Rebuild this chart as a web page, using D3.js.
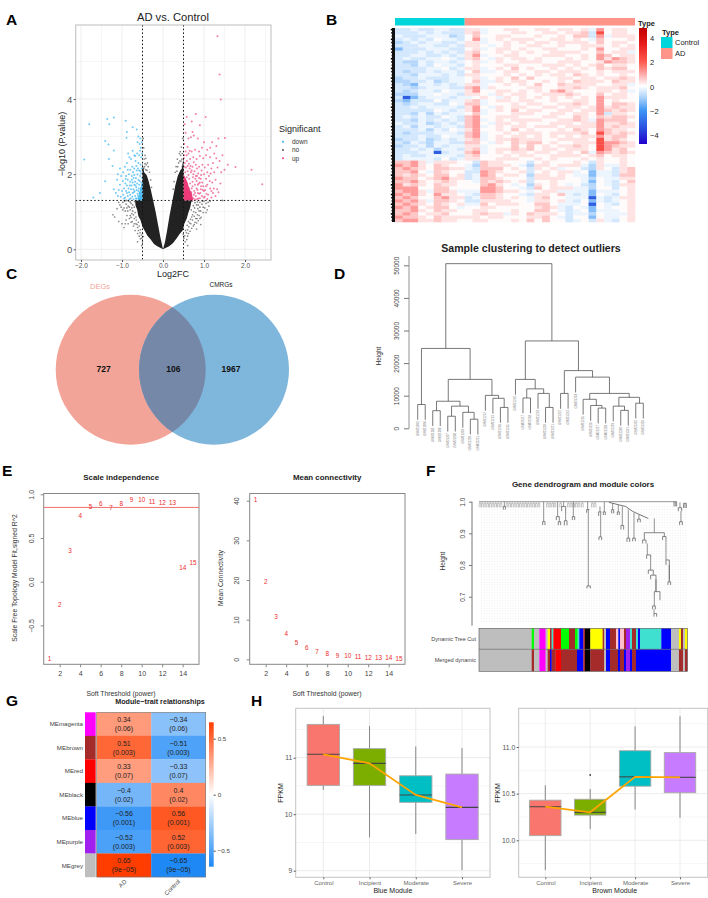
<!DOCTYPE html>
<html><head><meta charset="utf-8">
<script src="https://cdnjs.cloudflare.com/ajax/libs/d3/7.8.5/d3.min.js"></script>
<style>html,body{margin:0;padding:0;background:#fff}svg{display:block}text{font-family:"Liberation Sans",Arial,sans-serif}</style>
</head><body><svg id="c" width="708" height="898"></svg>
<script>
// ---------- A: volcano ----------
const volcanoBlue=[[-1.8,3.33],[-1.92,2.39],[-1.36,3.47],[-1.2,3.51],[-1.31,3.33],[-.91,3.42],[-.74,3.25],[-.64,3.19],[-.88,3.12],[-.89,2.97],[-1.41,2.88],[-1.33,2.79],[-1.2,2.63],[-1.32,2.4],[-1.54,1.5],[-1.7,1.38],[-1.23,2.22],[-1.41,1.81],[-.6,3.0],[-.55,2.95],[-.62,2.85],[-.57,2.8],[-.52,2.85],[-.54,2.7],[-.85,2.55],[-.82,2.45],[-.7,2.5],[-.63,2.55],[-.58,2.5],[-.53,2.45],[-.88,2.3],[-.78,2.4],[-.67,2.35],[-.6,2.3],[-.55,2.25],[-.93,2.2],[-.86,2.12],[-.75,2.2],[-.7,2.15],[-.64,2.1],[-.58,2.1],[-1.05,2.15],[-1.1,2.0],[-1.02,1.95],[-.97,2.05],[-.9,1.95],[-.83,2.0],[-.76,1.95],[-.7,1.98],[-1.12,1.85],[-1.05,1.72],[-.98,1.82],[-.92,1.75],[-.86,1.85],[-.8,1.8],[-.74,1.78],[-.68,1.8],[-.6,1.85],[-1.2,1.6],[-1.15,1.5],[-1.08,1.58],[-1.0,1.55],[-.95,1.62],[-.9,1.55],[-.84,1.62],[-.78,1.6],[-.72,1.6],[-.65,1.65],[-1.1,1.42],[-1.03,1.4],[-.97,1.45],[-.92,1.38],[-.86,1.42],[-.8,1.45],[-.75,1.4],[-.68,1.42],[-.62,1.48],[-.82,1.33],[-.72,1.33],[-.88,1.7],[-.77,1.7],[-.71,1.52],[-.66,1.9],[-.62,2.0],[-.58,1.72],[-.56,1.95],[-.54,1.6],[-.53,2.02],[-.66,1.35],[-.6,1.55],[-.8,2.12],[-.73,2.05],[-.95,1.35],[-.52,2.15],[-.55,2.08],[-.51,1.9],[-.53,1.78],[-.57,1.82],[-.59,1.62],[-.63,1.75],[-.61,1.42],[-.57,1.5],[-.53,1.4],[-.55,1.33],[-.64,1.58],[-.67,1.7],[-.7,1.72],[-.69,1.55],[-.74,1.5],[-.76,1.85],[-.81,1.7],[-.83,1.52],[-.79,1.35],[-.88,1.5],[-.91,1.88],[-.72,1.9],[-.65,2.22],[-.61,2.15],[-.51,2.55],[-.56,2.62],[-.68,2.48],[-.74,2.62],[-.5,1.5],[-.5,1.72],[-.51,1.32],[-.64,1.35],[-.59,1.36]];
const volcanoPink=[[1.33,5.67],[1.38,4.65],[1.41,3.99],[.8,3.6],[1.04,3.52],[.58,3.52],[2.42,1.73],[2.16,2.12],[1.77,2.19],[1.58,2.25],[1.51,2.96],[1.35,2.95],[.7,3.4],[.9,3.3],[.53,3.33],[.55,3.1],[.72,3.12],[.75,3.03],[.62,2.95],[.68,2.98],[.85,2.95],[.52,2.8],[.6,2.72],[1.0,2.85],[1.2,2.85],[1.3,2.75],[1.25,2.55],[1.15,2.7],[1.08,2.65],[.95,2.7],[.88,2.6],[.78,2.65],[.7,2.6],[.62,2.55],[.55,2.6],[.52,2.5],[1.45,2.5],[1.38,2.35],[1.3,2.42],[1.22,2.3],[1.15,2.45],[1.05,2.5],[.98,2.42],[.9,2.48],[.82,2.4],[.74,2.45],[.66,2.4],[.58,2.35],[1.5,2.12],[1.42,2.05],[1.33,2.18],[1.25,2.05],[1.18,2.15],[1.1,2.25],[1.02,2.18],[.96,2.25],[.88,2.2],[.8,2.25],[.72,2.2],[.65,2.15],[.6,2.22],[1.4,1.75],[1.32,1.6],[1.28,1.85],[1.2,1.78],[1.12,1.95],[1.05,1.88],[1,2.0],[.93,1.98],[.86,2.02],[.8,1.95],[.74,2.0],[.68,2.05],[.62,1.98],[1.35,1.52],[1.22,1.5],[1.15,1.62],[1.1,1.45],[1.05,1.68],[1,1.55],[.96,1.78],[.92,1.6],[.87,1.75],[.82,1.82],[.78,1.72],[.72,1.8],[1.18,1.38],[1.08,1.34],[1.02,1.4],[.95,1.42],[.9,1.36],[.85,1.5],[.8,1.42],[.76,1.55],[.7,1.62],[.66,1.75],[.64,1.88],[.58,1.92],[.54,2.05],[.52,2.2],[.57,1.72],[.62,1.5],[.68,1.42],[.6,1.35],[.74,1.36],[.83,1.33],[.56,1.45],[.52,1.62],[.53,2.3],[.56,2.18],[.51,2.42],[.6,2.08],[.63,2.28],[.67,2.22],[.7,2.1],[.73,1.92],[.77,2.08],[.79,1.88],[.83,1.95],[.85,1.72],[.88,1.9],[.9,1.78],[.93,1.68],[.84,1.58],[.88,1.48],[.91,1.5],[.97,1.58],[.99,1.38],[1.03,1.58],[1.06,1.48],[.78,1.33],[.75,1.45],[.72,1.68],[.69,1.52],[.66,1.33],[.64,1.62],[.82,1.62],[.78,1.5],[.86,1.35],[.92,1.88],[.98,1.68],[1.08,1.72],[1.14,1.82],[1.18,1.55],[1.24,1.62],[1.28,1.42],[.58,2.5],[.65,2.62],[.75,2.32],[.83,2.15],[.94,2.1],[1.08,2.05],[1.16,2.02]];
const volcanoBlack=[[-1.22,.92],[-1.18,.86],[-1.08,.74],[-1.0,.68],[-1.12,1.08],[-1.05,1.18],[-.98,1.25],[-.95,1.1],[-.92,1.02],[-.88,.9],[-.9,1.2],[-.85,1.15],[-.84,1.28],[-.8,1.05],[-.82,.82],[-.78,.72],[-.76,.95],[-.74,1.18],[-.72,.62],[-.7,.82],[-.68,.5],[-.66,.68],[-.62,.42],[-.58,.35],[-.55,.28],[-.5,.2],[-.48,2.95],[-.47,2.7],[-.44,2.5],[-.42,2.42],[-.38,2.3],[-.36,2.2],[-.33,2.05],[-.3,1.85],[-.45,2.2],[-.42,2.12],[-.28,1.65],[.48,2.95],[.42,2.6],[.4,2.55],[.35,2.4],[.47,2.55],[.32,2.2],[.3,2.05],[.27,1.8],[.44,2.35],[.25,1.6],[1.45,1.3],[1.1,1.25],[1.12,1.15],[1.05,1.22],[1.0,1.28],[.98,1.12],[.95,1.2],[.92,1.02],[.9,1.25],[.88,.9],[.85,1.08],[.83,.82],[.82,1.18],[.8,.98],[.78,.72],[.76,.88],[.74,.62],[.72,.78],[.7,.56],[.68,.68],[.66,.48],[.82,.54],[.62,.42],[.6,.35],[.58,.26],[.54,.2],[.6,.1],[-.52,.1],[-.62,.2],[.92,.66],[-.95,.58],
[-.78,1.22],[-.76,1.1],[-.74,1.02],[-.72,.92],[-.7,1.12],[-.69,1.27],[-.68,.98],[-.66,.86],[-.65,.78],[-.63,.66],[-.62,.58],[-.6,.72],[-.6,.5],[-.58,.62],[-.56,.44],[-.55,.52],[-.53,.38],[-.52,.3],[-.5,.42],[-.48,.34],[-.82,1.12],[-.8,1.26],[-.88,1.1],[-.86,1.02],[-.94,1.28],[-.98,1.05],[-1.02,1.12],[-.9,.78],[-.85,.68],[-.92,.68],[-.75,.74],[-.7,.68],[-.8,.9],[-.78,.85],[-.9,1.3],[-1.08,1.25],
[.78,1.24],[.77,1.1],[.75,1.0],[.74,1.16],[.72,.92],[.71,1.28],[.7,.86],[.69,1.05],[.67,.8],[.65,.7],[.63,.6],[.62,.74],[.6,.52],[.59,.64],[.57,.44],[.55,.5],[.53,.36],[.51,.3],[.49,.4],[.84,1.26],[.86,1.18],[.88,1.02],[.9,1.12],[.93,.85],[.96,1.28],[.98,.98],[1.02,1.1],[1.05,.98],[1.08,1.05],[.86,.76],[.82,.7],[.9,.82],[.8,.82],[.76,.66],[1.15,1.28],[.84,.92],
[-.46,2.4],[-.44,2.28],[-.47,2.15],[-.41,2.25],[-.39,2.1],[-.43,1.98],[-.46,1.9],[.46,2.4],[.43,2.5],[.47,2.2],[.41,2.35],[.38,2.3],[.36,2.2],[.45,2.72],[.34,2.08]];
const denseLeft=[[0,0],[-.14,.08],[-.22,.14],[-.3,.26],[-.38,.36],[-.45,.5],[-.5,.6],[-.55,.78],[-.6,.88],[-.63,1.05],[-.67,1.16],[-.68,1.3],[-.5,1.3],[-.5,2.3],[-.46,2.05],[-.4,1.98],[-.36,1.85],[-.3,1.6],[-.24,1.3],[-.18,1.0],[-.12,.65],[-.06,.3]];
const denseRight=[[0,0],[.05,.2],[.1,.5],[.16,.9],[.23,1.3],[.3,1.7],[.36,1.95],[.42,2.1],[.46,2.15],[.5,2.45],[.5,1.3],[.7,1.3],[.66,1.1],[.62,.98],[.58,.82],[.52,.68],[.48,.5],[.4,.4],[.34,.3],[.24,.16],[.15,.08]];
const densePink=[[.5,1.3],[.5,2.0],[.55,1.9],[.6,1.78],[.64,1.62],[.7,1.5],[.74,1.3]];
const denseBlue=[[-.5,1.3],[-.5,1.8],[-.54,1.7],[-.58,1.5],[-.62,1.3]];
const volcanoLegend=["down","no","up"];
// ---------- B: heat map (31 samples; each digit is a colour level) ----------
const heatLevels=[-3.2,-1.35,-.85,-.5,-.22,.05,.32,.65,1.15,2.3];
const heatRows=[
"334334433 66455665566 56656485665","333434333 67455566556 65667395665","433344423 57556655565 56577384666","343435443 58456566655 66565475556",
"234344334 66455656566 56666575665","333443343 66545655665 56556665656","133344433 56456656556 65556585566","333434343 67556565655 66665575664",
"334433434 68455665556 66556587566","343344543 67546566565 55656586876","322434434 56456556665 56665568776","332435443 56555665556 66565675665",
"333344534 66456575655 65656576775","323343443 57445665566 56665565666","332444343 66555656565 66576565565","233433344 56456575755 56656656676",
"223342344 57446566556 56576665766","321443434 66455656575 57666655664","332344433 78465555665 56676566675","323443544 68556656565 78655566564",
"222445443 66546566556 66765575665","301344434 45654656565 65656586665","213335344 67456656655 65566585655","323443354 77455565665 56676585776",
"334344443 68546566556 65665686766","333335434 68456575665 56656687676","332424344 57455566655 66566583665","343433543 78556665556 65576576776",
"332434343 78456566665 56676487775","433423434 78546656555 66656686676","342443443 78456566566 65666686766","333424354 68556575655 56576587665",
"323334443 78455656665 66667597676","333433544 78456566565 65656686775","233423434 67456676665 56666596765","324324433 77546576775 65566698876",
"233424344 66455575756 56676598766","334342443 67456676756 65666598675","333440344 78456566566 56657487676","343344443 67555656655 66665675665",
"344443534 66556665565 65556565565",
"778646665 53766555356 55565365565","878657655 42766654266 56664264465","787657766 43777565365 64553265367","778547655 33876556356 56645144367",
"767657756 34875665266 56544144377","877567866 34776555366 66554254466","778656765 54767656355 65554154357","867657665 55786545265 65453254366",
"888557755 55887554375 66644255356","788647764 44887665456 64444144456","878658665 43776554366 57434154356","787557866 34776565467 55444043466",
"878647765 33666655466 56435143456","787657656 44756665577 54445054356","878567754 55665555567 64354154556","778657665 56655565577 54345144456",
"787566755 56766465766 65344254446","877657666 66566555667 54355154456","788667665 56655565757 55345364356"];
const heatCbTicks=[4,2,0,-2,-4];
const typeLegend=[["Control","#00d5dc"],["AD","#ff9488"]];
// ---------- C: venn ----------
const vennSets=["DEGs","CMRGs"];const vennCounts=[727,106,1967];
// ---------- D: sample tree; [height,left,right] with leaves in order ----------
const sampleNames=["GSM21203","GSM21204","GSM21205","GSM21206","GSM21207","GSM21208","GSM21209","GSM21210","GSM21211","GSM21212","GSM21213","GSM21214","GSM21215","GSM21216","GSM21217","GSM21218","GSM21219","GSM21220","GSM21221","GSM21222","GSM21223","GSM21224","GSM21225","GSM21226","GSM21227","GSM21228","GSM21229","GSM21230","GSM21231","GSM21232","GSM21233"];
const sampleTree=[50500,
 [24500,[7300,0,1],
  [15000,
   [8300,[5400,2,3],[6800,[3700,4,5],[4900,6,[2800,7,8]]]],
   [10100,9,[9200,10,[6400,11,12]]]]],
 [26800,
  [15000,13,[12100,[9300,14,15],[10700,16,[6400,17,18]]]],
  [17700,[10700,19,20],
   [15700,21,[10700,
     [8900,22,[7000,23,[6200,24,25]]],
     [9500,[6800,26,[5500,27,28]],[7700,29,30]]]]]]];
const sampleTicks=[0,10000,20000,30000,40000,50000];
// ---------- E ----------
const softPowers=[1,2,3,4,5,6,7,8,9,10,11,12,13,14,15];
const scaleFit=[-.88,-.26,.354,.76,.856,.887,.845,.89,.936,.936,.913,.90,.90,.16,.213];
const meanConn=[40.3,19.6,10.8,6.5,4.2,2.8,2.0,1.4,1.0,.8,.6,.45,.35,.28,.22];
// ---------- F ----------
const combLeft=[3,10,18,26,34,42,50,58,66,84,92,100,108,116,124,132,140,148,156,164,172,180,205,213,221,228,245,268,276,284,292,300,310,340,348];
const geneStems=[[76,1,.985],[194,1,.937],[236,1,.953],[241,.94,.937],[254,1,.985],[260,.96,.94],[283,1,.953],[326,1,.975],[328,.975,.734],[363,.985,.968],[365,.968,.889],[376,1,.968],[401,.995,.975],[418,.99,.968],[430,.985,.925],[448,.975,.885],[465,.965,.885],[480,.96,.945],[526,.947,.902],[505,.868,.832],[515,.82,.784],[523,.772,.768],[531,.755,.716],[526,.70,.671],[525,.66,.647],[561,.879,.816],[571,.80,.747],[589,1,.985],[603,.998,.981],[606,.97,.937],[618,.995,.98]];
const geneBrackets=[[73,79,.985,.975,.975],[191,198,.937,.926,.926],[232,241,.953,.942,.94],[238,245,.937,.926,.926],[248,260,.985,.97,.96],[256,264,.94,.925,.925],[280,287,.953,.942,.942],[323,331,.975,.965,.975],[324,334,.734,.726,.726],[359,367,.968,.955,.968],[360,368,.889,.879,.879],[373,379,.968,.958,.958],[398,404,.975,.963,.963],[415,421,.968,.958,.958],[426,434,.925,.912,.912],[444,452,.885,.873,.873],[461,469,.885,.875,.875],[476,484,.945,.935,.935],[496,556,.902,.879,.89],[491,501,.879,.868,.868],[503,515,.832,.82,.82],[508,523,.784,.772,.772],[515,531,.768,.755,.716],[526,543,.716,.70,.689],[521,529,.671,.66,.66],[525,533,.647,.637,.637],[551,561,.89,.879,.879],[561,571,.816,.80,.75],[567,575,.747,.737,.737],[585,593,1,.985,.985],[598,608,.981,.97,.97],[602,610,.937,.926,.926],[614,622,.995,.98,.98]];
const geneBackbone=[[0,1],[585,1]];
const geneStair=[[390,.998],[420,.99],[440,.985],[460,.97],[480,.96],[508,.947]];
const geneTicks=[.7,.8,.9,1];
const cutRow=[["#bebebe",158],["#00ff00",7],["#bebebe",16],["#ff00ff",19],["#bebebe",6],["#ffff00",7],["#a52a2a",5],["#40e0d0",5],["#ff0000",23],["#00ff00",24],["#a52a2a",18],["#00ff00",8],["#40e0d0",5],["#0000ff",12],["#a52a2a",5],["#000000",16],["#ffff00",37],["#a52a2a",5],["#bebebe",5],["#0000ff",12],["#a52a2a",18],["#ffc0cb",7],["#0000ff",5],["#ffc0cb",12],["#a52a2a",6],["#a020f0",12],["#40e0d0",6],["#a52a2a",12],["#40e0d0",6],["#0000ff",6],["#40e0d0",64],["#0000ff",29],["#bebebe",24],["#ffff00",6],["#a52a2a",6],["#bebebe",6],["#ffff00",7]];
const mergedRow=[["#bebebe",158],["#a52a2a",7],["#bebebe",16],["#ff00ff",19],["#bebebe",6],["#a52a2a",7],["#0000ff",5],["#a52a2a",12],["#ff0000",16],["#a52a2a",48],["#0000ff",19],["#a52a2a",5],["#000000",16],["#a52a2a",42],["#bebebe",5],["#0000ff",12],["#a52a2a",24],["#0000ff",6],["#a52a2a",12],["#0000ff",6],["#a020f0",12],["#0000ff",6],["#a52a2a",12],["#0000ff",105],["#bebebe",24],["#a52a2a",12],["#bebebe",6],["#a52a2a",7]];
// ---------- G ----------
const moduleNames=["MEmagenta","MEbrown","MEred","MEblack","MEblue","MEpurple","MEgrey"];
const moduleColors=["#ff00ff","#a52a2a","#ff0000","#000000","#0000ff","#a020f0","#bebebe"];
const traitNames=["AD","Control"];
const moduleCor=[.34,.51,.33,-.4,-.56,-.52,.65];
const moduleP=["0.06","0.003","0.07","0.02","0.001","0.003","9e−05"];
const moduleCorLabels=["0.34","0.51","0.33","−0.4","−0.56","−0.52","0.65"];
const moduleCorNeg=["−0.34","−0.51","−0.33","0.4","0.56","0.52","−0.65"];
// ---------- H ----------
const stages=["Control","Incipient","Moderate","Severe"];
const stageColors=["#F8766D","#7CAE00","#00BFC4","#C77CFF"];
const blueBox=[[10.43,10.51,11.06,11.59,11.74],[9.59,10.51,10.90,11.16,11.56],[9.65,10.21,10.34,10.68,11.20],[9.01,9.55,10.12,10.71,11.17]];
const brownBox=[[9.68,10.05,10.36,10.43,10.59],[10.12,10.27,10.30,10.44,10.55],[10.33,10.58,10.68,10.96,11.22],[10.24,10.51,10.675,10.94,11.33]];
const brownOutlier=[[1,10.70]];

const svg=d3.select("#c");
const FRAME="#bdbdbd";
function txt(g,x,y,s,o={}){const t=g.append("text").attr("x",x).attr("y",y).text(s).attr("font-size",o.size||8).attr("fill",o.fill||"#222").attr("text-anchor",o.anchor||"middle").attr("font-weight",o.weight||"normal");if(o.rot!==undefined)t.attr("transform",`rotate(${o.rot},${x},${y})`);return t;}
function letter(s,x,y){txt(svg,x,y,s,{size:15.5,weight:"bold",fill:"#000",anchor:"start"});}
[["A",6,25],["B",326,25],["C",6,279],["D",334,279],["E",2,476],["F",426,476],["G",6,706],["H",251,706]].forEach(d=>letter(...d));
function frame(g,x0,x1,y0,y1,c,w){g.append("rect").attr("x",x0).attr("y",y0).attr("width",x1-x0).attr("height",y1-y0).attr("fill","none").attr("stroke",c||FRAME).attr("stroke-width",w||1);}
function axisStyle(g,size,color,len,lineColor){g.selectAll("text").attr("font-size",size).attr("fill",color);g.selectAll("line").attr("stroke",lineColor||color);g.select(".domain").attr("stroke",lineColor||color);}

// ---- A
(function(){
 const g=svg.append("g");
 const x=d3.scaleLinear().domain([-2,2]).range([81,245]),y=d3.scaleLinear().domain([0,4]).range([249.3,99]);
 const X0=75.7,X1=271,Y0=25,Y1=260;
 [-1.5,-.5,.5,1.5,2.5].forEach(v=>g.append("line").attr("x1",x(v)).attr("x2",x(v)).attr("y1",Y0).attr("y2",Y1).attr("stroke","#f6f6f6"));
 [1,3,5].forEach(v=>g.append("line").attr("x1",X0).attr("x2",X1).attr("y1",y(v)).attr("y2",y(v)).attr("stroke","#f6f6f6"));
 [-2,-1,0,1,2].forEach(v=>g.append("line").attr("x1",x(v)).attr("x2",x(v)).attr("y1",Y0).attr("y2",Y1).attr("stroke","#eeeeee"));
 [0,2,4].forEach(v=>g.append("line").attr("x1",X0).attr("x2",X1).attr("y1",y(v)).attr("y2",y(v)).attr("stroke","#eeeeee"));
 const ln=d3.line().x(d=>x(d[0])).y(d=>y(d[1])).curve(d3.curveLinearClosed);
 g.append("path").attr("d",ln(denseLeft)).attr("fill","#222");
 g.append("path").attr("d",ln(denseRight)).attr("fill","#222");
 g.selectAll(".bk").data(volcanoBlack).join("circle").attr("cx",d=>x(d[0])).attr("cy",d=>y(d[1])).attr("r",.85).attr("fill","#333").attr("opacity",.6);
 g.append("path").attr("d",ln(denseBlue)).attr("fill","#2fb2f2").attr("opacity",.8);
 g.append("path").attr("d",ln(densePink)).attr("fill","#ea2a6e").attr("opacity",.92);
 g.selectAll(".bl").data(volcanoBlue).join("circle").attr("cx",d=>x(d[0])).attr("cy",d=>y(d[1])).attr("r",1).attr("fill","#35b4f2").attr("opacity",.7);
 g.selectAll(".pk").data(volcanoPink).join("circle").attr("cx",d=>x(d[0])).attr("cy",d=>y(d[1])).attr("r",1).attr("fill","#ec3a7a").attr("opacity",.65);
 const dot=(a,b,c,d)=>g.append("line").attr("x1",a).attr("x2",c).attr("y1",b).attr("y2",d).attr("stroke","#111").attr("stroke-width",1).attr("stroke-dasharray","1.5 2.2");
 dot(x(-.5),Y0,x(-.5),Y1);dot(x(.5),Y0,x(.5),Y1);dot(X0,y(1.3),X1,y(1.3));
 frame(g,X0,X1,Y0,Y1);
 const ax=g.append("g").attr("transform",`translate(0,${Y1})`).call(d3.axisBottom(x).tickValues([-2,-1,0,1,2]).tickSize(2).tickPadding(1));
 ax.select(".domain").remove();axisStyle(ax,6.5,"#555");
 const ay=g.append("g").attr("transform",`translate(${X0},0)`).call(d3.axisLeft(y).tickValues([0,2,4]).tickFormat(d3.format("d")).tickSize(2).tickPadding(1.5));
 ay.select(".domain").remove();axisStyle(ay,9.5,"#555");
 txt(g,173,20.5,"AD vs. Control",{size:11.2,fill:"#222"});
 txt(g,173,277,"Log2FC",{size:9,fill:"#222"});
 txt(g,65,144,"−log10 (P.value)",{size:9,rot:-90,fill:"#222"});
 txt(g,279,132,"Significant",{size:9,anchor:"start"});
 volcanoLegend.forEach((s,i)=>{const yy=141.7+i*8.3;
  g.append("circle").attr("cx",283).attr("cy",yy).attr("r",1).attr("fill",["#35b4f2","#555","#ec3a7a"][i]);
  txt(g,292,yy+2.3,s,{size:6.5,anchor:"start",fill:"#333"});});
})();

// ---- B
(function(){
 const g=svg.append("g");
 const col=d3.scaleBand().domain(d3.range(31)).range([395,635]).paddingInner(0);
 const cleaned=heatRows.map(r=>r.replace(/ /g,""));
 const row=d3.scaleBand().domain(d3.range(cleaned.length)).range([28,222]);
 const color=d3.scaleLinear().domain([-4.8,-3.5,-2,-1,0,1,2,3.5,4.8]).range(["#2200cc","#2a4fe0","#3d96f5","#a8d0fa","#ffffff","#ffa8a8","#ff5a50","#e81a1a","#c00000"]);
 cleaned.forEach((r,i)=>{for(let j=0;j<31&&j<r.length;j++){
   g.append("rect").attr("x",col(j)).attr("y",row(i)).attr("width",col.bandwidth()+.3).attr("height",row.bandwidth()+.3).attr("fill",color(heatLevels[+r[j]]));}});
 g.append("rect").attr("x",col(0)).attr("y",18).attr("width",col(9)-col(0)).attr("height",7.5).attr("fill","#00d5dc");
 g.append("rect").attr("x",col(9)).attr("y",18).attr("width",635-col(9)).attr("height",7.5).attr("fill","#ff9488");
 cleaned.forEach((r,i)=>g.append("line").attr("x1",390.8+(i%3)*.4).attr("x2",395).attr("y1",row(i)+row.bandwidth()/2).attr("y2",row(i)+row.bandwidth()/2).attr("stroke","#000").attr("stroke-width",1.6));
 g.append("rect").attr("x",392).attr("y",28).attr("width",3).attr("height",194).attr("fill","#111");
 const defs=svg.append("defs"),lg=defs.append("linearGradient").attr("id","hg").attr("x1",0).attr("x2",0).attr("y1",1).attr("y2",0);
 color.domain().forEach((d,i)=>lg.append("stop").attr("offset",(d+4.8)/9.6).attr("stop-color",color.range()[i]));
 const cb=d3.scaleLinear().domain([-4,4]).range([135,38]);
 g.append("rect").attr("x",639).attr("y",28).attr("width",8).attr("height",116).attr("fill","url(#hg)");
 heatCbTicks.forEach(v=>txt(g,650,cb(v)+3,d3.format("d")(v),{size:7.5,anchor:"start",fill:"#222"}));
 txt(g,638,25.5,"Type",{size:7.5,weight:"bold",anchor:"start"});
 txt(g,662,34.5,"Type",{size:7.5,weight:"bold",anchor:"start"});
 typeLegend.forEach((d,i)=>{g.append("rect").attr("x",661).attr("y",37+i*11).attr("width",11.5).attr("height",11).attr("fill",d[1]);
  txt(g,675,45+i*11,d[0],{size:7.5,anchor:"start"});});
})();

// ---- C
(function(){
 const g=svg.append("g");
 const x=d3.scaleLinear().domain([0,1]).range([130.7,214]);
 g.append("circle").attr("cx",x(0)).attr("cy",369.7).attr("r",75).attr("fill","#F3A498");
 g.append("circle").attr("cx",x(1)).attr("cy",369.7).attr("r",75).attr("fill","#7FB6DC");
 const cp=svg.append("defs").append("clipPath").attr("id","vc");cp.append("circle").attr("cx",x(0)).attr("cy",369.7).attr("r",75);
 g.append("circle").attr("cx",x(1)).attr("cy",369.7).attr("r",75).attr("fill","#7688A8").attr("clip-path","url(#vc)");
 txt(g,100,288.5,vennSets[0],{size:7.5,fill:"#F3A498"});
 txt(g,221,286.5,vennSets[1],{size:6.5,fill:"#222"});
 [103.7,173.3,231].forEach((p,i)=>txt(g,p,371.5,vennCounts[i],{size:8.5,weight:"bold",fill:"#111"}));
})();

// ---- D
(function(){
 const g=svg.append("g");
 const x=d3.scaleLinear().domain([0,30]).range([417.7,643.3]),y=d3.scaleLinear().domain([0,50000]).range([428.3,265.3]);
 const hang=4700,C="#555";
 function draw(n){
  if(typeof n==="number")return {x:x(n),h:null,leaf:n};
  const L=draw(n[1]),R=draw(n[2]),h=n[0];
  [L,R].forEach(c=>{
   const bot=c.h===null?h-hang:c.h;
   g.append("line").attr("x1",c.x).attr("x2",c.x).attr("y1",y(h)).attr("y2",y(bot)).attr("stroke",C).attr("stroke-width",.8);
   if(c.h===null)txt(g,c.x+.9,y(bot)+1.5,sampleNames[c.leaf],{size:2.9,anchor:"end",rot:-90,fill:"#777"});
  });
  g.append("line").attr("x1",L.x).attr("x2",R.x).attr("y1",y(h)).attr("y2",y(h)).attr("stroke",C).attr("stroke-width",.8);
  return {x:(L.x+R.x)/2,h};
 }
 draw(sampleTree);
 const ax=g.append("g").attr("transform","translate(409,0)").call(d3.axisLeft(y).tickValues(sampleTicks).tickFormat(d3.format("d")).tickSize(5).tickPadding(1));
 g.append("line").attr("x1",409).attr("x2",409).attr("y1",256).attr("y2",428.3).attr("stroke","#777").attr("stroke-width",.8);
 ax.select(".domain").remove();axisStyle(ax,6.5,"#444",5,"#777");
 ax.selectAll("text").attr("transform","rotate(-90)").attr("text-anchor","middle").attr("x",0).attr("y",-10).attr("dy","0");
 txt(g,531,251.5,"Sample clustering to detect outliers",{size:10.6,weight:"bold"});
 txt(g,381,356,"Height",{size:6.5,rot:-90,fill:"#333"});
})();

// ---- E
function softPanel(title,ylab,vals,X0,yDomain,yRange,ticks,tickFmt,labelX,tickX,ref){
 const g=svg.append("g"),Y0=493.5,Y1=664.3;
 const x=d3.scaleLinear().domain([2,14]).range([X0+16,X0+139]),y=d3.scaleLinear().domain(yDomain).range(yRange);
 frame(g,X0,X0+155.3,Y0,Y1,"#888");
 if(ref!==undefined)g.append("line").attr("x1",X0).attr("x2",X0+155.3).attr("y1",y(ref)).attr("y2",y(ref)).attr("stroke","#ef6f6f").attr("stroke-width",1);
 softPowers.forEach((p,i)=>txt(g,x(p),y(vals[i])+2.3,p,{size:6.4,fill:"#ee2b2b"}));
 const ax=g.append("g").attr("transform",`translate(0,${Y1})`).call(d3.axisBottom(x).tickValues([2,4,6,8,10,12,14]).tickSize(3).tickPadding(4));
 ax.select(".domain").remove();axisStyle(ax,7,"#444",3,"#888");
 const ay=g.append("g").attr("transform",`translate(${X0},0)`).call(d3.axisLeft(y).tickValues(ticks).tickFormat(tickFmt).tickSize(3));
 ay.select(".domain").remove();axisStyle(ay,7,"#444",3,"#888");
 ay.selectAll("text").attr("transform","rotate(-90)").attr("text-anchor","middle").attr("x",0).attr("y",tickX-X0).attr("dy","0.32em");
 txt(g,X0+77.5,479.5,title,{size:7.9,weight:"bold"});
 txt(g,labelX,578,ylab,{size:6.8,rot:-90,fill:"#333"});
}
softPanel("Scale independence","Scale Free Topology Model Fit,signed R^2",scaleFit,43.7,[0,1],[581.7,494.3],[-.5,0,.5,1],d3.format(".1f"),17,32,.85);
softPanel("Mean connectivity","Mean Connectivity",meanConn,249.7,[0,40],[659.3,500.7],[0,10,20,30,40],d3.format("d"),223,237);
txt(svg,121,696.3,"Soft Threshold (power)",{size:6.8,fill:"#333"});
txt(svg,327,696.3,"Soft Threshold (power)",{size:6.8,fill:"#333"});

// ---- F
(function(){
 const g=svg.append("g");
 const x=d3.scaleLinear().domain([0,625]).range([479,687.3]),y=d3.scaleLinear().domain([.7,1]).range([596.7,501.7]);
 d3.range(8,622,7.85).forEach(r=>g.append("line").attr("x1",x(r)).attr("x2",x(r)).attr("y1",y(.985)).attr("y2",y(.62)).attr("stroke","#e0e0e0").attr("stroke-width",.6).attr("stroke-dasharray","1 1.6"));
 g.append("path").attr("d",d3.line().x(d=>x(d[0])).y(d=>y(d[1]))(geneBackbone)).attr("fill","none").attr("stroke","#888").attr("stroke-width",.9);
 g.append("path").attr("d",d3.line().x(d=>x(d[0])).y(d=>y(d[1]))(geneStair)).attr("fill","none").attr("stroke","#666").attr("stroke-width",.9);
 combLeft.forEach(r=>{g.append("path").attr("d",`M${x(r-2.5)},${y(.982)}V${y(.995)}H${x(r+2.5)}V${y(.982)}M${x(r)},${y(.995)}V${y(1)}`).attr("fill","none").attr("stroke","#aaa").attr("stroke-width",.7);});
 geneStems.forEach(s=>g.append("line").attr("x1",x(s[0])).attr("x2",x(s[0])).attr("y1",y(s[1])).attr("y2",y(s[2])).attr("stroke","#777").attr("stroke-width",.8));
 geneBrackets.forEach(b=>g.append("path").attr("d",`M${x(b[0])},${y(b[3])}V${y(b[2])}H${x(b[1])}V${y(b[4])}`).attr("fill","none").attr("stroke","#666").attr("stroke-width",.8));
 const ax=g.append("g").attr("transform","translate(472,0)").call(d3.axisLeft(y).tickValues(geneTicks).tickFormat(d3.format(".1f")).tickSize(3));
 g.append("line").attr("x1",472).attr("x2",472).attr("y1",y(1)).attr("y2",625.7).attr("stroke","#777");
 ax.select(".domain").remove();axisStyle(ax,6.5,"#444",3,"#777");
 ax.selectAll("text").attr("transform","rotate(-90)").attr("text-anchor","middle").attr("x",0).attr("y",-9.5).attr("dy","0.32em");
 txt(g,583,487,"Gene dendrogram and module colors",{size:8,weight:"bold"});
 txt(g,445,561,"Height",{size:6.5,rot:-90,fill:"#333"});
 [[cutRow,628.3,21,"Dynamic Tree Cut"],[mergedRow,649.3,22,"Merged dynamic"]].forEach(([rowData,yy,h,label])=>{
  let acc=0;rowData.forEach(s=>{g.append("rect").attr("x",x(acc)).attr("y",yy).attr("width",x(acc+s[1])-x(acc)+.2).attr("height",h).attr("fill",s[0]);acc+=s[1];});
  txt(g,476,yy+h/2+2,label,{size:5.6,anchor:"end",fill:"#444"});
 });
 g.append("rect").attr("x",479).attr("y",628.3).attr("width",208.3).attr("height",43).attr("fill","none").attr("stroke","#555").attr("stroke-width",.6);
 g.append("line").attr("x1",479).attr("x2",687.3).attr("y1",649.3).attr("y2",649.3).attr("stroke","#555").attr("stroke-width",.6);
})();

// ---- G
(function(){
 const g=svg.append("g");
 const yb=d3.scaleBand().domain(moduleNames).range([712.3,877]);
 const xb=d3.scaleBand().domain(traitNames).range([96.7,205.7]);
 const color=d3.scaleLinear().domain([-.65,0,.65]).range(["#1E88F5","#ffffff","#FF3D00"]);
 moduleNames.forEach((m,i)=>{
  g.append("rect").attr("x",85).attr("y",yb(m)).attr("width",10.7).attr("height",yb.bandwidth()+.2).attr("fill",moduleColors[i]);
  txt(g,83,yb(m)+yb.bandwidth()/2+2.3,m,{size:6.2,anchor:"end",fill:"#444"});
  traitNames.forEach((t,j)=>{
   const v=j===0?moduleCor[i]:-moduleCor[i],lab=j===0?moduleCorLabels[i]:moduleCorNeg[i];
   g.append("rect").attr("x",xb(t)).attr("y",yb(m)).attr("width",xb.bandwidth()+.2).attr("height",yb.bandwidth()+.2).attr("fill",color(v));
   const cx=xb(t)+xb.bandwidth()/2,cy=yb(m)+yb.bandwidth()/2;
   txt(g,cx,cy-2,lab,{size:7,fill:"#222"});
   txt(g,cx,cy+7,"("+moduleP[i]+")",{size:7,fill:"#222"});
  });
 });
 frame(g,96.7,205.7,712.3,877,"#777",.6);
 traitNames.forEach((t,i)=>txt(g,[127,180.5][i],882,t,{size:6,anchor:"end",rot:-45,fill:"#444"}));
 const lg=svg.append("defs").append("linearGradient").attr("id","mg").attr("x1",0).attr("x2",0).attr("y1",1).attr("y2",0);
 [["0","#1E88F5"],["0.5","#ffffff"],["1","#FF3D00"]].forEach(s=>lg.append("stop").attr("offset",s[0]).attr("stop-color",s[1]));
 g.append("rect").attr("x",209).attr("y",722.3).attr("width",4.7).attr("height",144.4).attr("fill","url(#mg)");
 const cb=d3.scaleLinear().domain([-.5,.5]).range([850.7,738.7]);
 const ax=g.append("g").attr("transform","translate(213.7,0)").call(d3.axisRight(cb).tickValues([-.5,0,.5]).tickFormat(v=>v===0?"0":d3.format(".1f")(v)).tickSize(2).tickPadding(2));
 ax.select(".domain").remove();axisStyle(ax,6.2,"#444");
 txt(g,160,704,"Module−trait relationships",{size:7.2,weight:"bold"});
})();

// ---- H
function boxPanel(box,X0,X1,catL,catR,yDomain,yRange,ticks,fmt,xTitle,fpkmX,outliers){
 const g=svg.append("g"),Y0=708.3,Y1=877.3;
 const x=d3.scalePoint().domain(stages).range([catL,catR]),y=d3.scaleLinear().domain(yDomain).range(yRange);
 const bw=(catR-catL)/3*.7;
 const minor=ticks.slice(0,-1).map((t,i)=>(t+ticks[i+1])/2);minor.push(ticks[0]-(ticks[1]-ticks[0])/2,ticks[ticks.length-1]+(ticks[1]-ticks[0])/2);
 minor.forEach(v=>{if(y(v)>Y0&&y(v)<Y1)g.append("line").attr("x1",X0).attr("x2",X1).attr("y1",y(v)).attr("y2",y(v)).attr("stroke","#f6f6f6");});
 ticks.forEach(v=>g.append("line").attr("x1",X0).attr("x2",X1).attr("y1",y(v)).attr("y2",y(v)).attr("stroke","#ececec"));
 stages.forEach(s=>g.append("line").attr("x1",x(s)).attr("x2",x(s)).attr("y1",Y0).attr("y2",Y1).attr("stroke","#ececec"));
 box.forEach((b,i)=>{const cx=x(stages[i]);
  g.append("line").attr("x1",cx).attr("x2",cx).attr("y1",y(b[0])).attr("y2",y(b[4])).attr("stroke","#888").attr("stroke-width",1);
  g.append("rect").attr("x",cx-bw/2).attr("y",y(b[3])).attr("width",bw).attr("height",y(b[1])-y(b[3])).attr("fill",stageColors[i]).attr("stroke","#a8a8a8").attr("stroke-width",.9);
  g.append("line").attr("x1",cx-bw/2).attr("x2",cx+bw/2).attr("y1",y(b[2])).attr("y2",y(b[2])).attr("stroke","#444").attr("stroke-width",1.1);
 });
 (outliers||[]).forEach(o=>g.append("circle").attr("cx",x(stages[o[0]])).attr("cy",y(o[1])).attr("r",.9).attr("fill","#444"));
 g.append("path").attr("d",d3.line().x((d,i)=>x(stages[i])).y(d=>y(d[2]))(box)).attr("fill","none").attr("stroke","#FFA500").attr("stroke-width",1.8);
 frame(g,X0,X1,Y0,Y1,"#c4c4c4");
 const ax=g.append("g").attr("transform",`translate(0,${Y1})`).call(d3.axisBottom(x).tickSize(2).tickPadding(1.5));
 ax.select(".domain").remove();axisStyle(ax,6,"#666");
 const ay=g.append("g").attr("transform",`translate(${X0},0)`).call(d3.axisLeft(y).tickValues(ticks).tickFormat(fmt).tickSize(2).tickPadding(1.5));
 ay.select(".domain").remove();axisStyle(ay,6.8,"#555");
 txt(g,(X0+X1)/2+(X0>500?1.5:0),892.5,xTitle,{size:7,fill:"#222"});
 txt(g,fpkmX,793,"FPKM",{size:7,rot:-90,fill:"#222"});
}
boxPanel(blueBox,295.7,490,323.3,462,[9,11],[870.7,757.7],[9,10,11],d3.format("d"),"Blue Module",283);
boxPanel(brownBox,518.7,707.7,545.3,680,[10,11],[840.3,747],[10,10.5,11],d3.format(".1f"),"Brown Module",500,brownOutlier);
</script></body></html>
